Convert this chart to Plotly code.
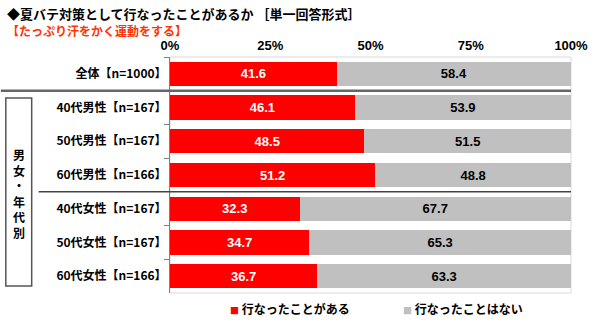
import plotly.graph_objects as go

categories = ["全体【n=1000】", "40代男性【n=167】", "50代男性【n=167】", "60代男性【n=166】",
              "40代女性【n=167】", "50代女性【n=167】", "60代女性【n=166】"]
did = [41.6, 46.1, 48.5, 51.2, 32.3, 34.7, 36.7]
did_not = [58.4, 53.9, 51.5, 48.8, 67.7, 65.3, 63.3]
series_names = ["行なったことがある", "行なったことはない"]
x_ticks = [0, 25, 50, 75, 100]
x_tick_labels = ["0%", "25%", "50%", "75%", "100%"]

JP = "Noto Sans CJK JP"
NUM = "Liberation Sans"

W, H = 600, 323
L, R, T, B = 170, 27, 57, 30
PW, PH = W - L - R, H - T - B

def px(x):
    return (x - L) / PW

def py(y):
    return (H - B - y) / PH

fig = go.Figure()
fig.add_trace(go.Bar(
    y=categories, x=did, orientation="h", name=series_names[0],
    marker=dict(color="#FF0000", line=dict(width=0)),
    text=did, texttemplate="%{x:.1f}", textposition="inside", insidetextanchor="middle",
    textangle=0, constraintext="none",
    textfont=dict(color="white", size=13, family=NUM, weight="bold"),
    width=0.72, hoverinfo="skip"))
fig.add_trace(go.Bar(
    y=categories, x=did_not, orientation="h", name=series_names[1],
    marker=dict(color="#C0C0C0", line=dict(width=0)),
    text=did_not, texttemplate="%{x:.1f}", textposition="inside", insidetextanchor="middle",
    textangle=0, constraintext="none",
    textfont=dict(color="black", size=13, family=NUM, weight="bold"),
    width=0.72, hoverinfo="skip"))

fig.update_layout(
    width=W, height=H, barmode="stack", showlegend=False,
    margin=dict(l=L, r=R, t=T, b=B, pad=0),
    paper_bgcolor="white", plot_bgcolor="white",
    xaxis=dict(range=[0, 100], side="top", tickmode="array", tickvals=x_ticks, ticktext=x_tick_labels,
               showgrid=False, zeroline=False, showline=False, ticks="", ticklabelstandoff=3,
               tickfont=dict(size=13, family=NUM, color="black", weight="bold")),
    yaxis=dict(categoryorder="array", categoryarray=categories, autorange="reversed",
               showline=True, linecolor="#808080", linewidth=1,
               ticks="outside", tickson="boundaries", ticklen=5, tickcolor="#808080",
               showgrid=False, zeroline=False,
               tickfont=dict(size=12, family=JP, color="black", weight="bold")),
)

# plot area border (light)
fig.add_shape(type="rect", xref="paper", yref="paper", x0=0, x1=1, y0=0, y1=1,
              line=dict(color="#D9D9D9", width=1), layer="below")
# separator lines
fig.add_shape(type="line", xref="paper", yref="y", x0=px(0), x1=1, y0=0.5, y1=0.5,
              line=dict(color="#666666", width=2.5))
fig.add_shape(type="line", xref="paper", yref="y", x0=px(38), x1=1, y0=3.5, y1=3.5,
              line=dict(color="#444444", width=1.5))
# group box
fig.add_shape(type="rect", xref="paper", yref="paper", x0=px(5), x1=px(31),
              y0=py(286), y1=py(98), line=dict(color="#555555", width=1.5))
fig.add_annotation(xref="paper", yref="paper", x=px(18), y=py(193.5),
                   text="男<br>女<br>・<br>年<br>代<br>別", showarrow=False,
                   font=dict(size=12, family=JP, color="black", weight="bold"),
                   xanchor="center", yanchor="middle")

# titles
fig.add_annotation(xref="paper", yref="paper", x=px(4), y=py(13),
                   text="◆夏バテ対策として行なったことがあるか ［単一回答形式］", showarrow=False,
                   font=dict(size=13, family=JP, color="black", weight="bold"),
                   xanchor="left", yanchor="middle")
fig.add_annotation(xref="paper", yref="paper", x=px(4), y=py(30),
                   text="【たっぷり汗をかく運動をする】", showarrow=False,
                   font=dict(size=12, family=JP, color="#FF3300", weight="bold"),
                   xanchor="left", yanchor="middle")

# legend
fig.add_annotation(xref="paper", yref="paper", x=px(228), y=py(308),
                   text="<span style='color:#FF0000;font-size:9px'>■</span> " + series_names[0],
                   showarrow=False, font=dict(size=12, family=JP, color="black", weight="bold"),
                   xanchor="left", yanchor="middle")
fig.add_annotation(xref="paper", yref="paper", x=px(402), y=py(308),
                   text="<span style='color:#C0C0C0;font-size:9px'>■</span> " + series_names[1],
                   showarrow=False, font=dict(size=12, family=JP, color="black", weight="bold"),
                   xanchor="left", yanchor="middle")

fig.write_html("out.html")
